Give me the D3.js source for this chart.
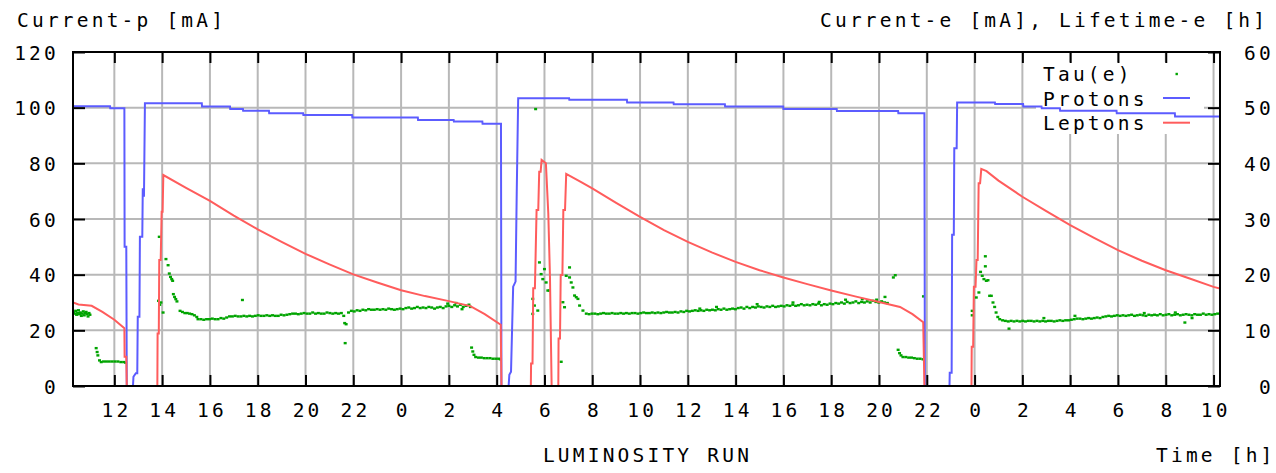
<!DOCTYPE html>
<html>
<head>
<meta charset="utf-8">
<script src="https://cdn.jsdelivr.net/npm/d3@7"></script>
<style>
  html, body { margin: 0; padding: 0; background: #fff; }
  svg text { font-family: "DejaVu Sans Mono", monospace; font-size: 19.5px; letter-spacing: 3.2px; fill: #000; }
</style>
</head>
<body>
<svg id="chart" width="1276" height="473"></svg>
<script>
// Time axis is in continuous hours since midnight of the first day (24 = next midnight).
const hourTicks  = [12,14,16,18,20,22,24,26,28,30,32,34,36,38,40,42,44,46,48,50,52,54,56,58];
const hourLabels = ["12","14","16","18","20","22","0","2","4","6","8","10","12","14","16","18","20","22","0","2","4","6","8","10"];
const leftTicks  = [0,20,40,60,80,100,120];   // Current-p [mA]
const rightTicks = [0,10,20,30,40,50,60];     // Current-e [mA], Lifetime-e [h]

// Proton beam current [mA] (left axis)
const protonCurrent = [
  [10.27,100.5],[11.82,100.5],[11.83,99.8],[12.42,99.8],[12.43,50.0],[12.5,50.0],[12.52,0],[12.78,0],
  [12.8,3.3],[12.9,4.6],[12.96,4.6],[12.98,24.9],[13.05,24.9],[13.07,53.6],[13.17,53.6],[13.19,71.0],
  [13.24,68.0],[13.28,101.6],[15.66,101.6],[15.67,100.4],[16.84,100.4],[16.85,99.5],[17.38,99.5],
  [17.39,98.9],[18.47,98.9],[18.48,98.0],[19.9,98.0],[19.91,97.4],[21.95,97.4],[21.96,96.5],[24.7,96.5],
  [24.71,95.6],[26.2,95.6],[26.21,95.0],[27.4,95.0],[27.41,94.2],[28.18,94.2],[28.2,0],[28.5,0],
  [28.53,4.0],[28.6,5.1],[28.69,35.7],[28.79,37.5],[28.84,69.8],[28.9,103.4],[31.03,103.4],[31.04,102.8],
  [33.45,102.8],[33.46,101.9],[35.4,101.9],[35.41,101.2],[37.55,101.2],[37.56,100.4],[39.99,100.4],
  [40.0,99.5],[42.23,99.5],[42.24,98.8],[44.8,98.8],[44.81,98.0],[45.9,98.0],[45.92,0],[46.95,0],
  [46.96,4.8],[47.04,4.8],[47.06,54.3],[47.13,54.3],[47.15,85.4],[47.25,85.4],[47.27,101.9],[48.85,101.9],
  [48.86,101.3],[50.03,101.3],[50.04,100.4],[50.8,100.4],[50.81,99.8],[51.57,99.8],[51.58,98.9],
  [53.94,98.9],[53.95,98.0],[56.38,98.0],[56.39,96.8],[58.27,96.8]
];

// Lepton beam current [mA] (right axis)
const leptonCurrent = [
  [10.27,15.0],[10.5,14.65],[11.05,14.4],[11.5,13.3],[12.0,11.9],[12.42,10.4],[12.43,5.25],[12.5,5.25],
  [12.52,0],[13.8,0],[13.81,9.45],[13.86,9.45],[13.88,22.65],[13.94,22.65],[13.98,31.3],[14.02,31.3],
  [14.05,37.9],[15.0,35.6],[16.0,33.25],[17.0,30.6],[18.0,28.15],[19.0,25.9],[20.0,23.75],[21.0,21.85],
  [22.0,20.05],[23.0,18.6],[24.0,17.2],[25.0,16.15],[26.0,15.25],[26.9,14.35],[27.5,12.9],[28.17,11.0],
  [28.2,0],[29.43,0],[29.44,4.05],[29.5,4.05],[29.53,17.55],[29.6,17.55],[29.67,31.6],[29.74,31.6],
  [29.78,38.5],[29.84,38.5],[29.88,40.6],[30.06,40.0],[30.16,31.0],[30.23,19.65],[30.3,0],[30.58,0],
  [30.59,8.55],[30.65,8.55],[30.68,19.95],[30.75,19.95],[30.79,31.6],[30.86,31.6],[30.91,38.1],
  [31.5,36.7],[32.0,35.5],[33.0,32.9],[34.0,30.4],[35.0,28.0],[36.0,25.9],[37.0,24.0],[38.0,22.3],
  [39.0,20.8],[40.0,19.5],[41.0,18.3],[42.0,17.15],[43.0,16.1],[44.0,15.1],[44.88,14.2],[45.4,12.9],
  [45.85,11.45],[45.9,0],[47.87,0],[47.88,7.05],[47.94,7.05],[47.97,17.85],[48.04,17.85],[48.08,22.65],
  [48.13,22.65],[48.17,36.4],[48.23,36.4],[48.28,39.0],[48.5,38.6],[49.0,36.9],[50.0,34.0],[51.0,31.4],
  [52.0,28.9],[53.0,26.6],[54.0,24.4],[55.0,22.5],[56.0,20.8],[57.0,19.3],[58.0,17.8],[58.27,17.5]
];

// Lepton lifetime Tau(e) [h] (right axis), logged samples
const tauBeforeDump = [
  [10.30,13.2],[10.34,13.0],[10.38,13.5],[10.42,12.8],[10.46,13.1],[10.50,13.6],[10.54,12.9],[10.58,13.2],
  [10.62,12.6],[10.66,13.0],[10.70,13.4],[10.74,12.7],[10.78,13.1],[10.82,13.3],[10.86,12.9],[10.90,12.5],
  [10.94,13.1],[10.98,12.8],
  [11.24,6.8],[11.28,6.1],[11.31,5.5],[11.38,4.6],[11.45,4.3],[11.55,4.4],[11.67,4.4],[11.79,4.4],
  [11.91,4.4],[12.03,4.4],[12.15,4.4],[12.27,4.3],[12.39,4.3],[12.47,4.2]
];

const tauFill1 = [
  [13.85,15.3],[13.88,26.8],[13.9,14.6],[13.95,15.0],[14.04,13.2],[14.16,22.8],[14.25,21.7],[14.3,20.2],
  [14.35,19.6],[14.4,19.2],[14.44,18.9],[14.47,16.5],[14.52,16.0],[14.57,15.6],[14.62,15.2],[14.75,13.5],
  [14.85,13.3],[14.95,13.1],[15.05,13.1],[15.15,13.0],[15.25,12.9],[15.35,12.7],[15.45,12.4],
  [15.50,12.0],[15.62,12.0],[15.74,11.9],[15.86,12.0],[15.98,12.0],[16.10,12.1],[16.22,12.0],[16.34,12.0],
  [16.46,12.2],[16.58,12.1],[16.70,12.3],[16.82,12.5],[16.94,12.5],[17.06,12.6],[17.18,12.5],[17.30,12.5],
  [17.36,15.45],[17.42,12.6],[17.54,12.5],[17.66,12.6],[17.78,12.5],[17.90,12.6],[18.02,12.7],[18.14,12.6],
  [18.26,12.6],[18.38,12.7],[18.50,12.6],[18.62,12.7],[18.74,12.6],[18.86,12.6],[18.98,12.8],[19.10,12.7],
  [19.22,12.8],[19.34,12.9],[19.46,13.0],[19.58,13.0],[19.70,12.9],[19.82,13.0],[19.94,13.1],[20.06,13.0],
  [20.18,13.0],[20.30,13.2],[20.42,13.0],[20.54,13.1],[20.66,13.0],[20.78,13.0],[20.90,13.2],[21.02,13.1],
  [21.14,13.0],[21.26,13.1],[21.38,13.0],[21.50,13.1],[21.60,12.6],[21.64,11.3],[21.66,7.7],[21.70,11.1],
  [21.80,13.2],[21.92,13.5],[22.04,13.4],[22.16,13.6],[22.28,13.5],[22.40,13.7],[22.52,13.6],[22.64,13.8],
  [22.76,13.7],[22.88,13.7],[23.00,13.8],[23.12,13.7],[23.24,13.8],[23.36,13.7],[23.48,13.9],[23.60,13.8],
  [23.72,13.7],[23.84,13.8],[23.96,13.9],[24.08,13.8],[24.20,14.0],[24.32,14.1],[24.44,13.9],[24.56,14.0],
  [24.68,14.2],[24.80,14.0],[24.92,14.1],[25.04,14.0],[25.16,14.2],[25.28,14.1],[25.40,13.9],[25.52,14.1],
  [25.64,14.2],[25.76,14.0],[25.88,14.3],[25.95,14.8],[26.00,14.4],[26.12,14.2],[26.24,14.5],[26.30,14.9],
  [26.36,14.3],[26.48,14.6],[26.55,13.8],[26.60,14.2],[26.72,14.4],[26.84,14.6],[26.90,14.2],
  [26.95,6.9],[27.0,6.2],[27.05,5.6],[27.12,5.2],[27.24,5.1],[27.36,5.1],[27.48,5.0],[27.60,5.0],
  [27.72,5.0],[27.84,4.9],[27.96,4.9],[28.08,4.9],[28.15,4.8]
];

const tauFill2 = [
  [29.51,15.65],[29.51,12.95],[29.58,14.45],[29.63,49.75],[29.72,13.55],[29.79,22.2],[29.86,20.1],
  [29.93,19.2],[30.0,21.0],[30.07,18.6],[30.14,17.15],[30.2,17.15],[30.70,4.35],
  [30.77,15.05],[30.84,14.15],[30.91,19.8],[31.05,21.3],[31.05,19.5],[31.12,18.6],[31.19,17.7],
  [31.26,16.25],[31.33,15.95],[31.4,15.65],[31.47,14.45],[31.61,13.55],
  [31.75,13.0],[31.87,12.9],[31.99,13.0],[32.11,13.0],[32.23,12.9],[32.35,13.0],[32.47,13.1],[32.59,13.0],
  [32.71,13.0],[32.83,13.1],[32.95,13.0],[33.07,13.0],[33.19,13.1],[33.31,13.0],[33.43,13.1],[33.55,13.0],
  [33.67,13.1],[33.79,13.1],[33.91,13.0],[34.03,13.1],[34.15,13.2],[34.27,13.1],[34.39,13.1],[34.51,13.2],
  [34.63,13.1],[34.75,13.2],[34.87,13.1],[34.99,13.2],[35.11,13.3],[35.23,13.2],[35.35,13.2],[35.47,13.3],
  [35.59,13.2],[35.71,13.4],[35.83,13.3],[35.95,13.5],[36.07,13.4],[36.19,13.5],[36.31,13.6],[36.43,13.5],
  [36.50,13.9],[36.55,13.6],[36.67,13.5],[36.79,13.7],[36.91,13.6],[37.03,13.7],[37.15,13.6],[37.20,14.2],
  [37.27,13.8],[37.39,13.7],[37.51,13.9],[37.63,13.7],[37.75,13.8],[37.87,13.9],[37.99,13.8],[38.11,14.0],
  [38.23,14.1],[38.35,13.9],[38.47,14.2],[38.59,14.0],[38.71,14.2],[38.83,14.1],[38.90,14.7],[38.95,14.3],
  [39.07,14.2],[39.19,14.1],[39.31,14.3],[39.43,14.2],[39.55,14.4],[39.67,14.2],[39.79,14.3],[39.91,14.4],
  [40.03,14.3],[40.15,14.5],[40.27,14.4],[40.39,14.6],[40.40,15.0],[40.51,14.4],[40.63,14.5],[40.75,14.7],
  [40.87,14.5],[40.99,14.6],[41.11,14.5],[41.23,14.7],[41.35,14.6],[41.47,14.8],[41.50,15.1],[41.59,14.5],
  [41.71,14.7],[41.83,14.6],[41.95,14.8],[42.07,14.7],[42.19,14.9],[42.31,14.8],[42.43,15.0],[42.55,14.8],
  [42.60,15.5],[42.67,15.1],[42.79,14.9],[42.91,15.0],[43.03,15.2],[43.15,14.9],[43.27,15.1],[43.30,15.6],
  [43.39,15.0],[43.51,15.2],[43.63,15.0],[43.75,15.3],[43.87,15.1],[43.90,15.5],[43.99,15.0],[44.11,15.2],
  [44.23,15.0],[44.25,16.0],[44.35,14.9],[44.60,19.5],[44.68,19.9],
  [44.80,6.5],[44.86,5.9],[44.92,5.5],[45.00,5.2],[45.12,5.2],[45.24,5.1],[45.36,5.1],[45.48,5.0],
  [45.60,4.9],[45.72,4.9],[45.84,4.8],[45.86,16.1]
];

const tauFill3 = [
  [47.90,13.5],[47.90,12.7],[48.07,15.9],[48.18,16.8],[48.25,20.5],[48.32,19.8],[48.39,19.2],[48.45,21.5],
  [48.45,23.3],[48.49,18.9],[48.56,19.0],[48.63,16.2],[48.70,16.2],[48.77,15.0],[48.84,14.2],[48.90,13.2],
  [48.97,12.4],[49.44,10.3],
  [49.05,12.0],[49.17,11.8],[49.29,11.7],[49.41,11.6],[49.53,11.7],[49.65,11.6],[49.77,11.7],[49.89,11.6],
  [50.01,11.7],[50.13,11.6],[50.25,11.7],[50.37,11.7],[50.49,11.6],[50.61,11.7],[50.73,11.6],[50.85,11.7],
  [50.90,12.2],[50.97,11.6],[51.09,11.7],[51.21,11.7],[51.33,11.6],[51.45,11.7],[51.57,11.8],[51.69,11.7],
  [51.81,11.8],[51.93,11.8],[52.05,11.9],[52.17,12.0],[52.20,12.6],[52.29,12.1],[52.41,12.1],[52.53,12.0],
  [52.65,12.1],[52.77,12.2],[52.89,12.1],[53.01,12.2],[53.13,12.3],[53.25,12.2],[53.37,12.4],[53.49,12.5],
  [53.61,12.6],[53.73,12.5],[53.85,12.6],[53.97,12.7],[54.09,12.6],[54.21,12.7],[54.33,12.6],[54.45,12.7],
  [54.57,12.8],[54.69,12.6],[54.81,12.7],[54.93,12.8],[55.05,12.7],[55.10,13.1],[55.17,12.6],[55.29,12.8],
  [55.41,12.7],[55.53,12.8],[55.65,12.7],[55.77,12.9],[55.89,12.7],[56.01,12.8],[56.13,12.9],[56.25,12.7],
  [56.37,12.8],[56.40,13.2],[56.49,12.9],[56.61,12.7],[56.73,12.8],[56.80,11.4],[56.85,12.9],[56.97,12.8],
  [57.09,12.7],[57.10,12.2],[57.21,12.9],[57.33,12.8],[57.45,12.8],[57.57,13.0],[57.69,12.8],[57.81,12.9],
  [57.93,12.8],[58.05,12.9],[58.17,13.0]
];

// ---- layout ----
const svg = d3.select("#chart");
const plot = { left: 73, right: 1220, top: 52, bottom: 386 };

const x  = d3.scaleLinear().domain([10.27, 58.27]).range([plot.left, plot.right]);
const yL = d3.scaleLinear().domain([0, 120]).range([plot.bottom, plot.top]);
const yR = d3.scaleLinear().domain([0, 60]).range([plot.bottom, plot.top]);

const COL_P = "#5c5cff", COL_E = "#ff5c5c", COL_T = "#00a400", COL_GRID = "#b8b8b8";

svg.append("rect").attr("width", 1276).attr("height", 473).attr("fill", "#fff");

// grid
const grid = svg.append("g");
grid.selectAll("line.v").data(hourTicks).join("line")
  .attr("x1", d => x(d)).attr("x2", d => x(d))
  .attr("y1", plot.top).attr("y2", plot.bottom)
  .attr("stroke", COL_GRID).attr("stroke-width", 2);
grid.selectAll("line.h").data(leftTicks).join("line")
  .attr("x1", plot.left).attr("x2", plot.right)
  .attr("y1", d => yL(d)).attr("y2", d => yL(d))
  .attr("stroke", COL_GRID).attr("stroke-width", 2);

// key area stays clear of the grid
svg.append("rect").attr("x", 1036).attr("y", 62).attr("width", 168).attr("height", 72).attr("fill", "#fff");

// data
svg.append("clipPath").attr("id", "clip").append("rect")
  .attr("x", plot.left).attr("y", plot.top)
  .attr("width", plot.right - plot.left).attr("height", plot.bottom - plot.top);
const data = svg.append("g").attr("clip-path", "url(#clip)");

const tauAll = [].concat(tauBeforeDump, tauFill1, tauFill2, tauFill3);
data.selectAll("rect.tau").data(tauAll).join("rect")
  .attr("x", d => x(d[0]) - 1.5).attr("y", d => yR(d[1]) - 1.2)
  .attr("width", 3).attr("height", 2.4).attr("fill", COL_T);

data.append("path").datum(protonCurrent)
  .attr("d", d3.line().x(d => x(d[0])).y(d => yL(d[1])))
  .attr("fill", "none").attr("stroke", COL_P).attr("stroke-width", 2);
data.append("path").datum(leptonCurrent)
  .attr("d", d3.line().x(d => x(d[0])).y(d => yR(d[1])))
  .attr("fill", "none").attr("stroke", COL_E).attr("stroke-width", 2);

// axes: inward ticks on all four sides
const styleAxis = g => {
  g.select(".domain").remove();
  g.selectAll(".tick line").attr("stroke", "#000").attr("stroke-width", 2);
  g.selectAll(".tick text").attr("font-family", null).attr("font-size", null);
};

svg.append("g").attr("transform", `translate(0,${plot.bottom})`)
  .call(d3.axisBottom(x).tickValues(hourTicks).tickSizeInner(-11).tickSizeOuter(0)
        .tickPadding(17).tickFormat((d, i) => hourLabels[i]))
  .call(styleAxis)
  .call(g => g.selectAll(".tick text").attr("x", 1.6));

svg.append("g").attr("transform", `translate(0,${plot.top})`)
  .call(d3.axisTop(x).tickValues(hourTicks).tickSizeInner(-11).tickSizeOuter(0).tickFormat(""))
  .call(styleAxis);

svg.append("g").attr("transform", `translate(${plot.left},0)`)
  .call(d3.axisLeft(yL).tickValues(leftTicks).tickSizeInner(-12).tickSizeOuter(0).tickPadding(14))
  .call(styleAxis)
  .call(g => g.selectAll(".tick text").attr("dy", null).attr("y", 7));

svg.append("g").attr("transform", `translate(${plot.right},0)`)
  .call(d3.axisRight(yR).tickValues(rightTicks).tickSizeInner(-12).tickSizeOuter(0))
  .call(styleAxis)
  .call(g => g.selectAll(".tick text").attr("text-anchor", "end").attr("x", 54).attr("dy", null).attr("y", 7));

// border
svg.append("rect")
  .attr("x", plot.left).attr("y", plot.top)
  .attr("width", plot.right - plot.left).attr("height", plot.bottom - plot.top)
  .attr("fill", "none").attr("stroke", "#000").attr("stroke-width", 2);

// titles
svg.append("text").attr("x", 17).attr("y", 27).text("Current-p [mA]");
svg.append("text").attr("x", 820).attr("y", 27).text("Current-e [mA], Lifetime-e [h]");
svg.append("text").attr("x", 647.5).attr("y", 462).attr("text-anchor", "middle").text("LUMINOSITY RUN");
svg.append("text").attr("x", 1156).attr("y", 462).text("Time [h]");

// key
const key = svg.append("g");
key.append("text").attr("x", 1043).attr("y", 81).text("Tau(e)");
key.append("rect").attr("x", 1175.5).attr("y", 72.8).attr("width", 2.4).attr("height", 2.4).attr("fill", COL_T);
key.append("text").attr("x", 1043).attr("y", 105.5).text("Protons");
key.append("line").attr("x1", 1163).attr("x2", 1190).attr("y1", 98).attr("y2", 98)
  .attr("stroke", COL_P).attr("stroke-width", 2);
key.append("text").attr("x", 1043).attr("y", 130).text("Leptons");
key.append("line").attr("x1", 1163).attr("x2", 1190).attr("y1", 122.7).attr("y2", 122.7)
  .attr("stroke", COL_E).attr("stroke-width", 2);
</script>
</body>
</html>
